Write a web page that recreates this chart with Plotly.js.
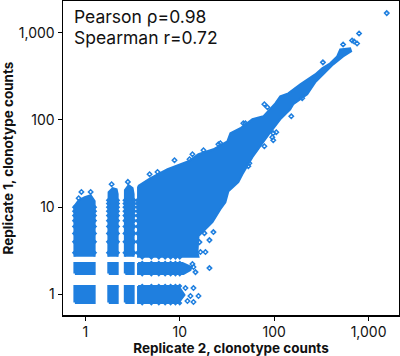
<!DOCTYPE html>
<html><head><meta charset="utf-8">
<script src="https://cdn.plot.ly/plotly-3.0.1.min.js"></script>
<style>html,body{margin:0;padding:0;background:#fff}</style></head>
<body><div id="chart" style="width:400px;height:356px"></div>
<script>
// All values below are log10(clonotype count).
const tickValues = [1, 10, 100, 1000];
const xTitle = 'Replicate 2, clonotype counts';
const yTitle = 'Replicate 1, clonotype counts';
const statLines = ['Pearson ρ=0.98', 'Spearman r=0.72'];

// dense low-count cells: replicate 2 and replicate 1 extents
const colX0 = [-0.111, 0.248, 0.423];
const colX1 = [0.093, 0.337, 0.506];
const rowY0 = [-0.094, 0.238];
const rowY1 = [0.090, 0.354];

// tall columns where replicate 1 >= 3
const col1X = [-0.116,-0.116,-0.071,-0.007,0.056,0.098,0.098];
const col1Y = [0.431,1.012,1.080,1.115,1.137,1.069,0.431];
const col2X = [0.243,0.246,0.289,0.331,0.342,0.342];
const col2Y = [0.431,1.172,1.218,1.206,1.149,0.431];
const col3X = [0.418,0.419,0.458,0.500,0.511,0.511];
const col3Y = [0.431,1.195,1.252,1.218,1.150,0.431];

// main cloud outline
const cloudX = [0.558,0.690,0.870,1.007,1.092,1.198,1.356,1.504,1.536,1.642,1.769,1.885,1.938,2.012,2.064,2.149,2.276,2.350,2.434,2.508,2.593,2.667,2.699,2.804,2.815,2.730,2.625,2.519,2.434,2.350,2.202,2.170,2.064,1.959,1.832,1.769,1.663,1.620,1.515,1.483,1.430,1.346,1.198,1.187,1.198,0.558,0.558];
const cloudY = [1.241,1.332,1.435,1.493,1.527,1.607,1.664,1.756,1.848,1.905,2.008,2.042,2.100,2.191,2.271,2.306,2.409,2.466,2.523,2.592,2.650,2.730,2.810,2.821,2.787,2.730,2.638,2.523,2.432,2.294,2.180,2.123,2.008,1.859,1.664,1.573,1.378,1.287,1.183,1.057,0.977,0.828,0.668,0.485,0.431,0.431,1.241];

// horizontal bands at replicate 1 = 2 and = 1
const band2X = [0.558,1.029,1.124,1.113,1.039,0.558,0.558];
const band2Y = [0.359,0.359,0.313,0.278,0.233,0.233,0.359];
const band1X = [0.558,0.986,1.050,0.986,0.558,0.558];
const band1Y = [0.095,0.095,-0.008,-0.100,-0.100,0.095];

// isolated clonotypes
const soloX = [-0.042,0.056,-0.071,0.278,0.450,0.680,0.764,0.944,1.134,1.103,1.251,1.409,1.430,1.673,1.695,1.896,1.928,2.516,2.730,2.899,2.878,2.847,2.825,3.192,2.297,2.181,2.022,1.990,1.980,1.990,1.896,1.737,1.726,1.356,1.261,1.314,1.208,1.272,1.219,1.314,1.145,1.166,1.134,1.060,1.145,1.113,1.198,1.081,1.145];
const soloY = [1.175,1.175,1.103,1.263,1.290,1.378,1.404,1.538,1.607,1.550,1.653,1.722,1.733,1.962,1.962,2.180,2.146,2.661,2.867,2.993,2.878,2.901,2.913,3.226,2.249,2.042,1.859,1.848,1.802,1.767,1.699,1.504,1.470,0.714,0.702,0.622,0.599,0.485,0.485,0.301,0.313,0.255,0.347,0.072,0.072,-0.019,-0.019,-0.077,-0.088];

// edge roughness: counts that poke out of the dense columns
const edgeRowY = [0.477,0.602,0.699,0.778,0.845,0.903,0.954,1.000,1.041,1.079];
const edgeColX = [-0.116,0.098,0.243,0.342,0.418,0.517,0.551];
const edgeRowCount = [8,8,10,10,10,10,10];
const bandEdgeX = [0.602,0.699,0.778,0.845,0.903,0.954,1.000];
const bandEdgeY = [0.425,0.359,0.233,0.095,-0.100];

const BLUE = '#1f7fdf';
const pow10 = a => a.map(v => Math.pow(10, v));
const traces = [];
function area(xs, ys, w) {
  traces.push({type:'scatter', mode:'lines', x:pow10(xs), y:pow10(ys), fill:'toself', fillcolor:BLUE,
    line:{color:BLUE, width:w}, hoverinfo:'skip', showlegend:false});
}
colX0.forEach((x0,i) => rowY0.forEach((y0,j) => {
  const x1 = colX1[i], y1 = rowY1[j];
  area([x0,x1,x1,x0,x0],[y0,y0,y1,y1,y0], 3);
}));
area(col1X,col1Y,2); area(col2X,col2Y,2); area(col3X,col3Y,2);
area(cloudX,cloudY,2); area(band2X,band2Y,2); area(band1X,band1Y,2);

const ex=[], ey=[];
edgeColX.forEach((x,i) => edgeRowY.slice(0,edgeRowCount[i]).forEach(y => {ex.push(x); ey.push(y);}));
bandEdgeX.forEach(x => bandEdgeY.forEach(y => {ex.push(x); ey.push(y);}));
traces.push({type:'scatter', mode:'markers', x:pow10(ex), y:pow10(ey), hoverinfo:'skip', showlegend:false,
  marker:{symbol:'diamond', size:4, color:BLUE, line:{width:0}}});
traces.push({type:'scatter', mode:'markers', x:pow10(soloX), y:pow10(soloY), hoverinfo:'skip', showlegend:false,
  marker:{symbol:'diamond-open', size:3.4, color:BLUE, line:{width:1.5, color:BLUE}}});

const FONT = 'Inter, Roboto, sans-serif';
const axisBase = {type:'log', showgrid:false, zeroline:false, showline:true, mirror:true, linecolor:'#000', linewidth:1.5,
  ticks:'outside', ticklen:4, tickwidth:1, tickcolor:'#000', tickmode:'array', tickvals:tickValues,
  ticktext:tickValues.map(v => v.toLocaleString('en-US')), tickfont:{family:FONT, size:14, color:'#111'}};
const layout = {
  width:400, height:356, paper_bgcolor:'#fff', plot_bgcolor:'#fff', showlegend:false,
  margin:{l:62.5, r:1, t:1, b:41},
  xaxis:Object.assign({}, axisBase, {range:[-0.237,3.322],
    title:{text:xTitle, standoff:8, font:{family:FONT, size:13.5, color:'#111', weight:700}}}),
  yaxis:Object.assign({}, axisBase, {range:[-0.237,3.365],
    title:{text:yTitle, standoff:6, font:{family:FONT, size:13.5, color:'#111', weight:700}}}),
  annotations:statLines.map((t,i) => ({text:t, xref:'paper', yref:'paper', x:0.029, y:0.988-i*0.067,
    xanchor:'left', yanchor:'top', showarrow:false, borderpad:0, font:{family:FONT, size:17.5, color:'#111'}}))
};
Plotly.newPlot('chart', traces, layout, {displayModeBar:false, staticPlot:true});
</script></body></html>
